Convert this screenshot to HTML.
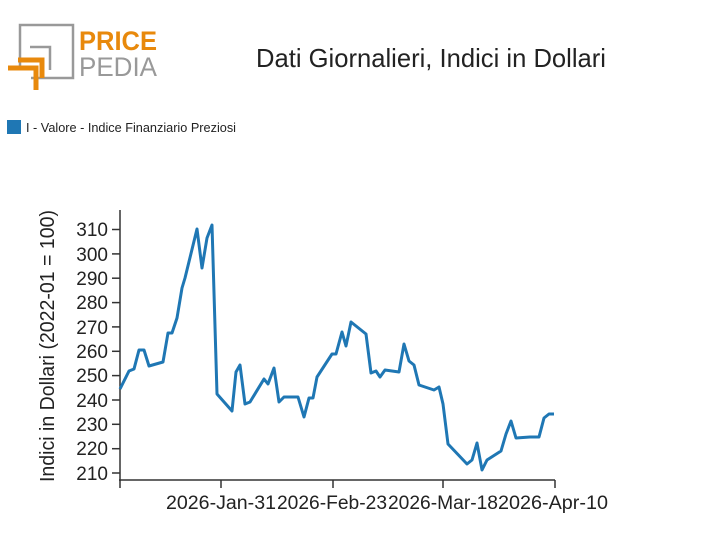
<!DOCTYPE html>
<html><head><style>body{margin:0;background:#fff}</style></head><body>
<svg width="712" height="555" viewBox="0 0 712 555" xmlns="http://www.w3.org/2000/svg" font-family="Liberation Sans, sans-serif">
<rect width="712" height="555" fill="#fff"/>
<g fill="none" stroke-width="2.5">
<polyline points="20,70 20,25 73,25 73,78 31,78" stroke="#999"/>
<polyline points="30,47 50,47 50,70" stroke="#999"/>
<polyline points="8,68 36,68 36,90" stroke="#e8890c" stroke-width="5"/>
<polyline points="18,60 42,60 42,78" stroke="#e8890c" stroke-width="5"/>
</g>
<text x="79" y="50" font-size="27" font-weight="bold" fill="#e8890c" textLength="78" lengthAdjust="spacingAndGlyphs">PRICE</text>
<text x="79" y="76" font-size="27" fill="#999" textLength="78" lengthAdjust="spacingAndGlyphs">PEDIA</text>
<text x="256" y="67" font-size="26" fill="#222" textLength="350" lengthAdjust="spacingAndGlyphs">Dati Giornalieri, Indici in Dollari</text>
<rect x="7" y="120" width="14" height="14" fill="#1f77b4"/>
<text x="26" y="132" font-size="13" fill="#222" textLength="210" lengthAdjust="spacingAndGlyphs">I - Valore - Indice Finanziario Preziosi</text>
<g stroke="#333" stroke-width="1.5">
<line x1="120" y1="210" x2="120" y2="481"/>
<line x1="119" y1="480" x2="555" y2="480"/>
<line x1="120" y1="480" x2="120" y2="488"/><line x1="221" y1="480" x2="221" y2="488"/><line x1="333" y1="480" x2="333" y2="488"/><line x1="443" y1="480" x2="443" y2="488"/><line x1="555" y1="480" x2="555" y2="488"/>
<line x1="112" y1="229.5" x2="120" y2="229.5"/><line x1="112" y1="253.9" x2="120" y2="253.9"/><line x1="112" y1="278.2" x2="120" y2="278.2"/><line x1="112" y1="302.6" x2="120" y2="302.6"/><line x1="112" y1="326.9" x2="120" y2="326.9"/><line x1="112" y1="351.3" x2="120" y2="351.3"/><line x1="112" y1="375.6" x2="120" y2="375.6"/><line x1="112" y1="400" x2="120" y2="400"/><line x1="112" y1="424.3" x2="120" y2="424.3"/><line x1="112" y1="448.7" x2="120" y2="448.7"/><line x1="112" y1="473" x2="120" y2="473"/>
</g>
<g font-size="19" fill="#222" text-anchor="end">
<text x="108" y="236">310</text><text x="108" y="261">300</text><text x="108" y="285">290</text><text x="108" y="309">280</text><text x="108" y="334">270</text><text x="108" y="358">260</text><text x="108" y="382">250</text><text x="108" y="407">240</text><text x="108" y="431">230</text><text x="108" y="455">220</text><text x="108" y="480">210</text>
</g>
<g font-size="19" fill="#222" text-anchor="middle">
<text x="221" y="509" textLength="110" lengthAdjust="spacingAndGlyphs">2026-Jan-31</text><text x="332" y="509" textLength="110" lengthAdjust="spacingAndGlyphs">2026-Feb-23</text><text x="443" y="509" textLength="110" lengthAdjust="spacingAndGlyphs">2026-Mar-18</text><text x="553" y="509" textLength="110" lengthAdjust="spacingAndGlyphs">2026-Apr-10</text>
</g>
<text transform="translate(54,346) rotate(-90)" font-size="20" fill="#222" text-anchor="middle" textLength="272" lengthAdjust="spacingAndGlyphs">Indici in Dollari (2022-01 = 100)</text>
<polyline fill="none" stroke="#1f77b4" stroke-width="3" stroke-linejoin="round" points="120,389 129,371 134,369 139,350 144,350 149,366 163,362 168,333 172,333 177,318 182,288 185,278 197,229 202,268 207,238 212,225 217,394 232,411 236,372 240,365 245,404 250,402 264,379 268,384 274,368 279,402 284,397 298,397 304,417 309,398 313,398 317,377 332,354 336,354 342,332 346,346 351,322 366,334 371,373 376,371 380,377 385,370 399,372 404,344 409,361 414,365 419,385 434,390 439,387 443,404 448,444 467,464 472,460 477,443 482,470 487,460 501,451 506,434 511,421 516,438 530,437 539,437 544,418 549,414 554,414"/>
</svg>
</body></html>
